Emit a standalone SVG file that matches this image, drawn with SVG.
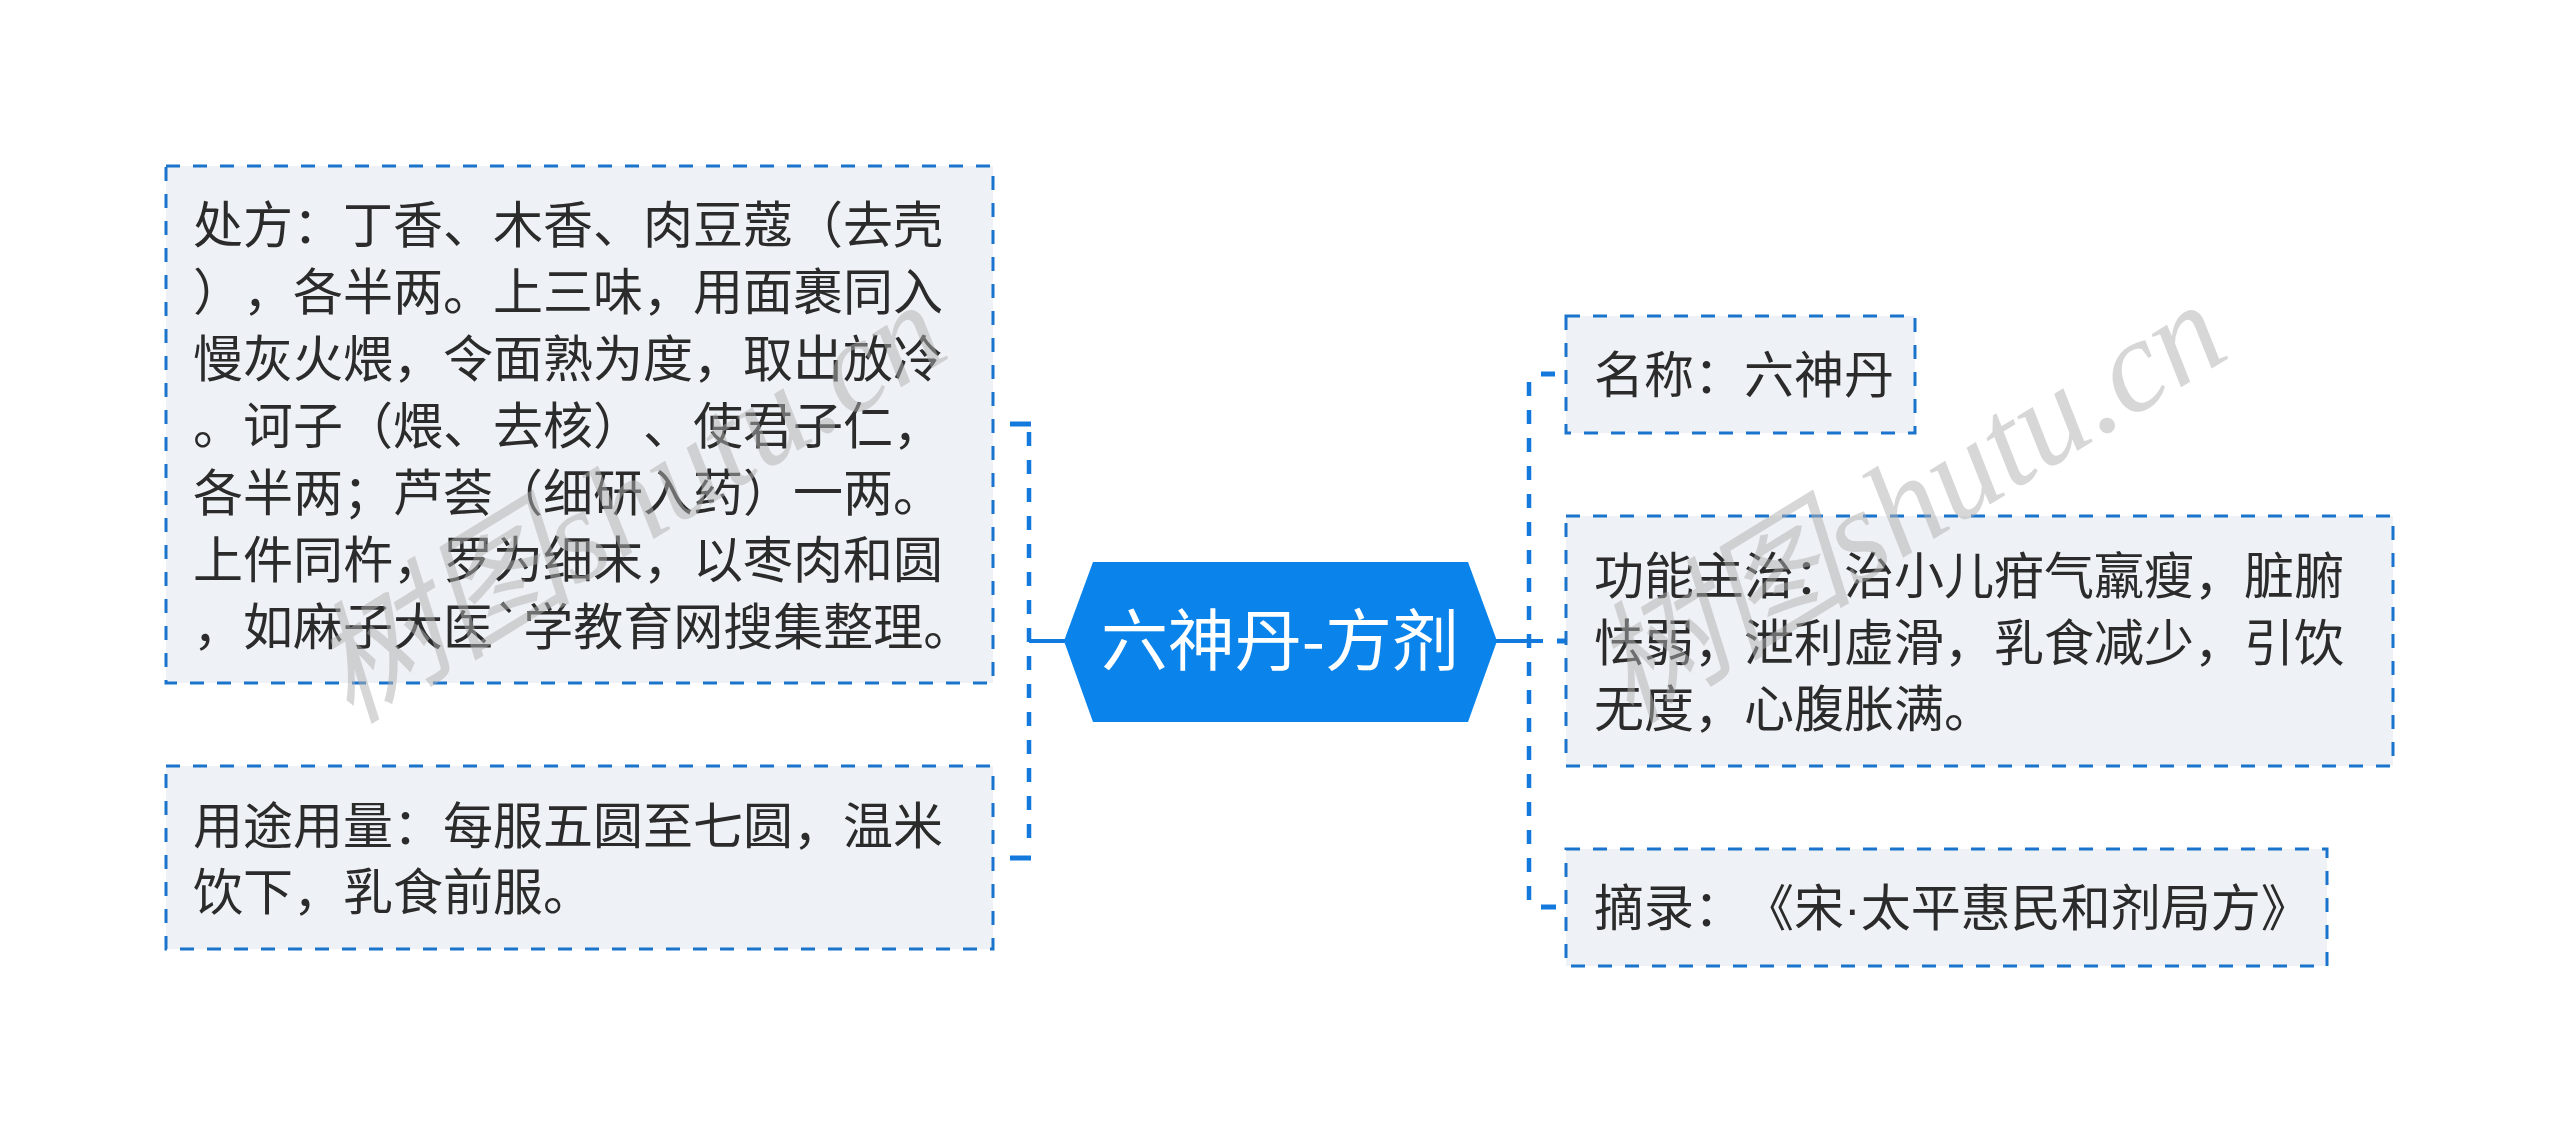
<svg xmlns="http://www.w3.org/2000/svg" width="2560" height="1133" viewBox="0 0 2560 1133">
<style>
text{text-spacing-trim:space-all;font-kerning:none}
.box{fill:#eef1f5;stroke:#1b74cc;stroke-width:3;stroke-dasharray:14 13}
.t{font-family:"Noto Sans CJK SC","Noto Sans",sans-serif;font-size:50px;fill:#2b2b2b}
.ct{font-family:"Noto Sans CJK SC","Noto Sans",sans-serif;font-size:67px;fill:#ffffff}
.dot{font-family:"Liberation Sans",sans-serif}
.solid{stroke:#1479dc;stroke-width:4;fill:none}
.dash{stroke:#1479dc;stroke-width:4.5;fill:none;stroke-dasharray:14 14}
.stub{stroke:#1479dc;stroke-width:5;fill:none}
.wm{font-family:"Liberation Serif","Noto Sans CJK SC",serif;font-style:italic;font-size:132px;fill:#b0b0b0;opacity:0.5}
</style>
<rect width="2560" height="1133" fill="#ffffff"/>
<g id="connectors">
<line class="solid" x1="1029" y1="641" x2="1066" y2="641"/>
<line class="dash" x1="1029" y1="432" x2="1029" y2="852"/>
<line class="stub" x1="1010" y1="424" x2="1031" y2="424"/>
<line class="stub" x1="1010" y1="858" x2="1031" y2="858"/>
<line class="solid" x1="1495" y1="641" x2="1543" y2="641"/>
<line class="dash" x1="1529" y1="382" x2="1529" y2="900"/>
<line class="stub" x1="1541" y1="374" x2="1555" y2="374"/>
<line class="stub" x1="1541" y1="907" x2="1556" y2="907"/>
<line class="stub" x1="1557" y1="641" x2="1566" y2="641"/>
</g>
<g id="center">
<polygon points="1093,562 1468,562 1497,641 1468,722 1093,722 1064,641" fill="#0a84ea"/>
<text class="ct" x="1280" y="665" text-anchor="middle">六神丹-方剂</text>
</g>
<g id="node-prescription">
<rect class="box" x="166" y="166" width="827" height="517"/>
<text class="t" x="193" y="243">处方：丁香、木香、肉豆蔻（去壳</text>
<text class="t" x="193" y="310">），各半两。上三味，用面裹同入</text>
<text class="t" x="193" y="377">慢灰火煨，令面熟为度，取出放冷</text>
<text class="t" x="193" y="444">。诃子（煨、去核）、使君子仁，</text>
<text class="t" x="193" y="511">各半两；芦荟（细研入药）一两。</text>
<text class="t" x="193" y="578">上件同杵，罗为细末，以枣肉和圆</text>
<text class="t" x="193" y="645">，如麻子大医`学教育网搜集整理。</text>
</g>
<g id="node-usage">
<rect class="box" x="166" y="766" width="827" height="183"/>
<text class="t" x="193" y="844">用途用量：每服五圆至七圆，温米</text>
<text class="t" x="193" y="910">饮下，乳食前服。</text>
</g>
<g id="node-name">
<rect class="box" x="1566" y="316" width="349" height="117"/>
<text class="t" x="1594" y="393">名称：六神丹</text>
</g>
<g id="node-function">
<rect class="box" x="1566" y="516" width="827" height="250"/>
<text class="t" x="1594" y="594">功能主治：治小儿疳气羸瘦，脏腑</text>
<text class="t" x="1594" y="661">怯弱，泄利虚滑，乳食减少，引饮</text>
<text class="t" x="1594" y="727">无度，心腹胀满。</text>
</g>
<g id="node-excerpt">
<rect class="box" x="1566" y="849" width="761" height="117"/>
<text class="t" x="1594" y="926">摘录：《宋<tspan class="dot">·</tspan>太平惠民和剂局方》</text>
</g>
<g id="watermark">
<text class="wm" transform="translate(350,725) rotate(-31.5)">树图shutu.cn</text>
<text class="wm" transform="translate(1630,725) rotate(-31.5)">树图shutu.cn</text>
</g>
</svg>
